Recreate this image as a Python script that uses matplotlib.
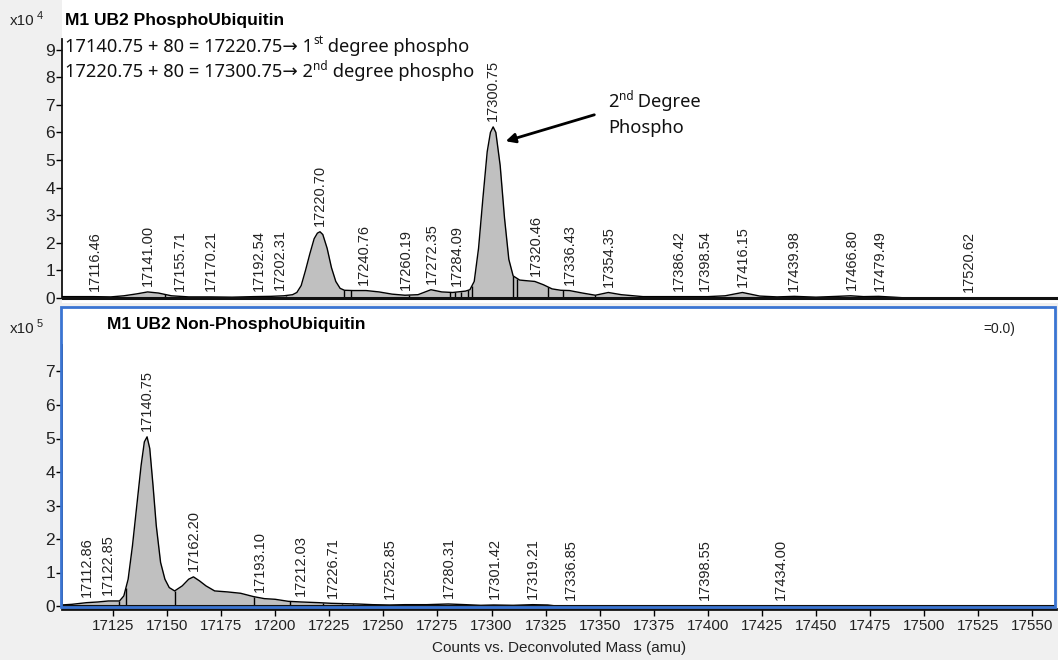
import numpy as np
import matplotlib
matplotlib.use("Agg")
import matplotlib.pyplot as plt
from matplotlib.patches import Rectangle

# ---------------- data ----------------
# top spectrum: M1 UB2 PhosphoUbiquitin (counts x10^4)
top_mass = [17101, 17108, 17116, 17124, 17130, 17136, 17141, 17146, 17152, 17160,
            17170, 17180, 17190, 17198, 17204, 17208, 17210, 17212, 17214, 17216,
            17218, 17219.5, 17220.7, 17222, 17224, 17226, 17228, 17230, 17232, 17236,
            17242, 17248, 17254, 17260, 17266, 17272, 17277, 17282, 17288, 17290,
            17292, 17294, 17296, 17298, 17299.5, 17300.75, 17302, 17304, 17306, 17308,
            17310, 17313, 17317, 17320, 17324, 17328, 17332, 17336, 17342, 17348,
            17354, 17360, 17370, 17380, 17390, 17400, 17408, 17416, 17424, 17432,
            17440, 17450, 17460, 17466, 17472, 17479, 17486, 17492]
top_int = [0.05, 0.05, 0.05, 0.04, 0.08, 0.15, 0.22, 0.18, 0.08, 0.04,
           0.04, 0.03, 0.05, 0.06, 0.08, 0.12, 0.2, 0.45, 1.0, 1.6,
           2.15, 2.35, 2.4, 2.3, 1.8, 1.1, 0.6, 0.35, 0.28, 0.27,
           0.27, 0.22, 0.14, 0.10, 0.12, 0.30, 0.22, 0.20, 0.25, 0.3,
           0.6, 1.8, 3.6, 5.3, 6.0, 6.2, 6.0, 4.8, 2.9, 1.4,
           0.8, 0.65, 0.62, 0.6, 0.48, 0.33, 0.28, 0.27, 0.18, 0.10,
           0.20, 0.12, 0.05, 0.05, 0.05, 0.05, 0.08, 0.20, 0.07, 0.04,
           0.06, 0.03, 0.06, 0.08, 0.05, 0.06, 0.03, 0.0]
top_bounds = [17124, 17149, 17205, 17232, 17235, 17262, 17281, 17283, 17286, 17289,
              17291, 17310, 17312, 17326, 17333, 17348]
top_labels = [17116.46, 17141.00, 17155.71, 17170.21, 17192.54, 17202.31, 17220.70,
              17240.76, 17260.19, 17272.35, 17284.09, 17300.75, 17320.46, 17336.43,
              17354.35, 17386.42, 17398.54, 17416.15, 17439.98, 17466.80, 17479.49,
              17520.62]

# bottom spectrum: M1 UB2 Non-PhosphoUbiquitin (counts x10^5)
bot_mass = [17101, 17106, 17112.86, 17118, 17122.85, 17128, 17130, 17132, 17134, 17136,
            17138, 17139.5, 17140.75, 17142, 17143.5, 17145, 17147, 17149, 17151, 17153.5,
            17157, 17160, 17162.2, 17165, 17168, 17172, 17178, 17184, 17190, 17195,
            17200, 17206, 17212, 17220, 17226, 17232, 17238, 17245, 17252.85, 17260,
            17270, 17280, 17288, 17295, 17301, 17310, 17319, 17326, 17330]
bot_int = [0.03, 0.05, 0.10, 0.12, 0.15, 0.15, 0.3, 0.8, 1.8, 3.0,
           4.2, 4.9, 5.05, 4.7, 3.6, 2.4, 1.3, 0.8, 0.55, 0.45,
           0.6, 0.8, 0.87, 0.75, 0.6, 0.45, 0.42, 0.38, 0.28, 0.22,
           0.20, 0.14, 0.12, 0.10, 0.08, 0.07, 0.06, 0.04, 0.03, 0.04,
           0.04, 0.06, 0.04, 0.02, 0.03, 0.02, 0.04, 0.03, 0.0]
bot_bounds = [17128, 17131, 17153.5, 17190, 17207, 17222, 17231, 17236]
bot_labels = [17112.86, 17122.85, 17140.75, 17162.20, 17193.10, 17212.03, 17226.71,
              17252.85, 17280.31, 17301.42, 17319.21, 17336.85, 17398.55, 17434.00]

x_ticks = list(range(17125, 17551, 25))
top_yticks = list(range(0, 10))
bot_yticks = list(range(0, 8))

# ---------------- layout ----------------
W, H = 1058, 660
fig = plt.figure(figsize=(W / 100, H / 100), dpi=100, facecolor='#f0f0f0')

def fx(px):
    return px / W

def fy(py):
    return 1 - py / H

PX0, SCALE = 113, 2.163  # pixel of 17125 and px per amu
def m_at(px):
    return 17125 + (px - PX0) / SCALE

LBL = dict(family=['Liberation Sans', 'DejaVu Sans'], color='#222222')
ANN = ['Noto Sans', 'DejaVu Sans']
BOLD = ['Liberation Sans', 'DejaVu Sans']
blue = '#3a74d2'
ANN_FS = 13.2

# ---------- top axes ----------
ax1 = fig.add_axes([fx(62), fy(303), fx(1058 - 62), 303 / H])
ax1.set_facecolor('white')
ax1.set_xlim(m_at(62), m_at(1058))
ax1.set_ylim(-5 / 27.6, 298 / 27.6)
ax1.fill_between(top_mass, 0, top_int, color='#c0c0c0', lw=0, zorder=2)
ax1.plot(top_mass, top_int, color='k', lw=1.0, zorder=3)
ax1.vlines(top_bounds, 0, np.interp(top_bounds, top_mass, top_int), color='k', lw=1.0, zorder=3)
ax1.axhline(0, color='#111111', lw=2.2, zorder=4)
for m in top_labels:
    h = np.interp(m, top_mass, top_int)
    ax1.annotate(f"{m:.2f}", (m, h), xytext=(0, 4), textcoords='offset points',
                 rotation=90, ha='center', va='bottom', fontsize=10.5, **LBL)
for s in ['top', 'right', 'bottom']:
    ax1.spines[s].set_visible(False)
ax1.spines['left'].set_bounds(0, 9.4)
ax1.spines['left'].set_color('#111111')
ax1.spines['left'].set_linewidth(1.3)
ax1.set_xticks([])
ax1.set_yticks(top_yticks)
ax1.tick_params(axis='y', length=4, width=1, pad=1, labelsize=12.5, labelcolor='#222222')
for t in ax1.get_yticklabels():
    t.set_family(['Liberation Sans', 'DejaVu Sans'])

# annotation arrow
ax1.annotate('', xy=(m_at(503), (298 - 142) / 27.6), xytext=(m_at(597), (298 - 114) / 27.6),
             arrowprops=dict(arrowstyle='-|>', color='k', lw=2, mutation_scale=14), zorder=6)

# ---------- bottom axes ----------
ax2 = fig.add_axes([fx(62), fy(609), fx(1056 - 62), (609 - 307) / H])
ax2.set_facecolor('white')
ax2.set_xlim(m_at(62), m_at(1056))
ax2.set_ylim(-3 / 33.5, (606 - 307) / 33.5)
ax2.fill_between(bot_mass, 0, bot_int, color='#c0c0c0', lw=0, zorder=2)
ax2.plot(bot_mass, bot_int, color='k', lw=1.0, zorder=3)
ax2.vlines(bot_bounds, 0, np.interp(bot_bounds, bot_mass, bot_int), color='k', lw=1.0, zorder=3)
ax2.axhline(0, color='#111111', lw=1.5, zorder=4)
for m in bot_labels:
    h = np.interp(m, bot_mass, bot_int, right=0.0)
    ax2.annotate(f"{m:.2f}", (m, h), xytext=(0, 4), textcoords='offset points',
                 rotation=90, ha='center', va='bottom', fontsize=10.5, **LBL)
for s in ['top', 'right']:
    ax2.spines[s].set_visible(False)
ax2.spines['left'].set_bounds(0, (606 - 345) / 33.5)
ax2.spines['left'].set_color('#111111')
ax2.spines['left'].set_linewidth(1.3)
ax2.spines['bottom'].set_color('#111111')
ax2.spines['bottom'].set_linewidth(2)
ax2.add_patch(Rectangle((-0.001, 0.005), 1.0, 0.995, transform=ax2.transAxes, fill=False,
                        ec=blue, lw=2, clip_on=False, zorder=5))
ax2.set_xticks(x_ticks)
ax2.set_xticklabels([str(t) for t in x_ticks])
ax2.set_yticks(bot_yticks)
ax2.tick_params(axis='both', length=5, width=1, labelsize=11, labelcolor='#222222')
ax2.tick_params(axis='x', pad=2)
ax2.tick_params(axis='y', pad=1, length=4, labelsize=12.5)
for t in ax2.get_xticklabels() + ax2.get_yticklabels():
    t.set_family(['Liberation Sans', 'DejaVu Sans'])

# ---------- figure texts ----------
fig.text(fx(10), fy(21), 'x10', fontsize=11, va='center', ha='left', **LBL)
fig.text(fx(37), fy(16), '4', fontsize=8, va='center', ha='left', **LBL)
fig.text(fx(65), fy(21), 'M1 UB2 PhosphoUbiquitin', fontsize=12.5, fontweight='bold',
         va='center', ha='left', family=BOLD, color='black')

def sup_line(y, pre, num, sup, post):
    t1 = fig.text(fx(65), fy(y), pre + num, fontsize=ANN_FS, va='center', ha='left',
                  family=ANN, color='#111111')
    fig.canvas.draw()
    bb = t1.get_window_extent()
    t2 = fig.text(bb.x1 / W, fy(y - 6), sup, fontsize=8.5, va='center', ha='left',
                  family=ANN, color='#111111')
    bb2 = t2.get_window_extent()
    fig.text(bb2.x1 / W, fy(y), post, fontsize=ANN_FS, va='center', ha='left',
             family=ANN, color='#111111')

sup_line(47, '17140.75 + 80 = 17220.75\u2192 ', '1', 'st', ' degree phospho')
sup_line(72, '17220.75 + 80 = 17300.75\u2192 ', '2', 'nd', ' degree phospho')

# annotation text
t = fig.text(fx(608), fy(102), '2', fontsize=ANN_FS, va='center', ha='left', family=ANN, color='#111111')
fig.canvas.draw()
b = t.get_window_extent()
t = fig.text(b.x1 / W, fy(96), 'nd', fontsize=8.5, va='center', ha='left', family=ANN, color='#111111')
b = t.get_window_extent()
fig.text(b.x1 / W, fy(102), ' Degree', fontsize=ANN_FS, va='center', ha='left', family=ANN, color='#111111')
fig.text(fx(608), fy(128), 'Phospho', fontsize=ANN_FS, va='center', ha='left', family=ANN, color='#111111')

fig.text(fx(10), fy(329), 'x10', fontsize=11, va='center', ha='left', **LBL)
fig.text(fx(37), fy(324), '5', fontsize=8, va='center', ha='left', **LBL)
fig.text(fx(107), fy(324), 'M1 UB2 Non-PhosphoUbiquitin', fontsize=12.5, fontweight='bold',
         va='center', ha='left', family=BOLD, color='black')
fig.text(fx(983), fy(329), '=0.0)', fontsize=10, va='center', ha='left', **LBL)

fig.text(fx(559), fy(648), 'Counts vs. Deconvoluted Mass (amu)', fontsize=11, va='center',
         ha='center', **LBL)

fig.savefig('out.png', dpi=100, facecolor=fig.get_facecolor())
